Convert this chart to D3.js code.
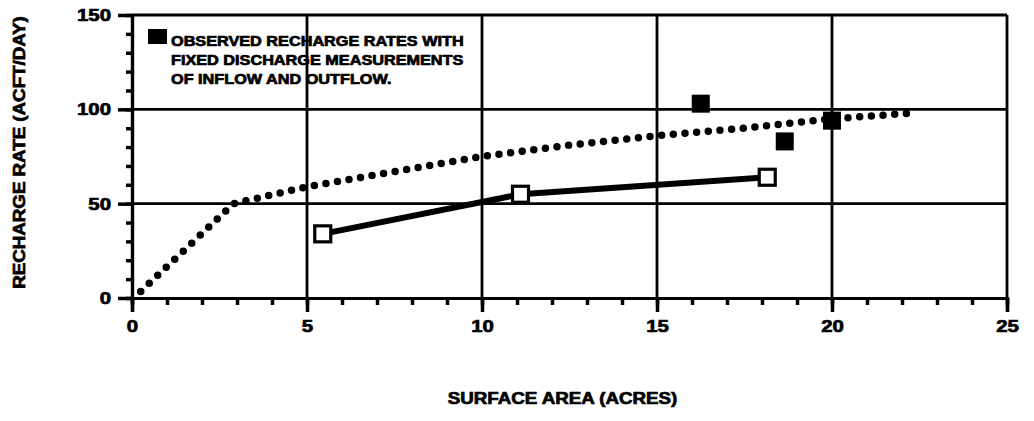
<!DOCTYPE html>
<html>
<head>
<meta charset="utf-8">
<script src="https://cdn.jsdelivr.net/npm/d3@7"></script>
<style>
  body { margin: 0; background: #fff; }
  text { font-family: "Liberation Sans", Arial, sans-serif; font-weight: bold; fill: #000; stroke: #000; stroke-width: 0.7px; }
</style>
</head>
<body>
<div id="chart"></div>
<script>
// estimated recharge curve (dotted)
var curveArea = [0.25, 2.9, 5, 7.5, 10, 12.5, 15, 17.5, 20, 22.3];
var curveRate = [3.5, 50, 59, 67, 75, 81, 86, 90, 95, 98];

// computed rates (open squares, solid line)
var computedArea = [5.45, 11.1, 18.15];
var computedRate = [34, 55, 64];

// observed rates (filled squares)
var observedArea = [16.25, 18.65, 20];
var observedRate = [103, 83, 94];

var xTicks = [0, 5, 10, 15, 20, 25];
var yTicks = [0, 50, 100, 150];
var xLabel = "SURFACE AREA (ACRES)";
var yLabel = "RECHARGE RATE (ACFT/DAY)";
var legendLines = ["OBSERVED RECHARGE RATES WITH",
    "FIXED DISCHARGE MEASUREMENTS",
    "OF INFLOW AND OUTFLOW."];

var margin = {top: 15, right: 27, bottom: 123, left: 132},
    width = 1034 - margin.left - margin.right,
    height = 421 - margin.top - margin.bottom;

var svg = d3.select("#chart")
    .append("svg")
    .attr("width", 1034)
    .attr("height", 421)
    .append("g")
    .attr("transform", "translate(" + margin.left + "," + margin.top + ")");

var x = d3.scaleLinear().domain([0, 25]).range([0, width]);
var y = d3.scaleLinear().domain([0, 150]).range([height, 0]);

// widen the bold text a bit, the scanned font is broad
function stretch(sel, k) {
    sel.each(function () {
        var w = this.getComputedTextLength();
        d3.select(this).attr("textLength", w * k).attr("lengthAdjust", "spacingAndGlyphs");
    });
}

// grid
svg.append("g").selectAll("line.v")
    .data(xTicks.slice(1))
    .enter().append("line")
    .attr("x1", function (d) { return x(d); })
    .attr("x2", function (d) { return x(d); })
    .attr("y1", 0).attr("y2", height)
    .attr("stroke", "#000").attr("stroke-width", 2.8);
svg.append("g").selectAll("line.h")
    .data(yTicks.slice(1))
    .enter().append("line")
    .attr("x1", 0).attr("x2", width)
    .attr("y1", function (d) { return y(d); })
    .attr("y2", function (d) { return y(d); })
    .attr("stroke", "#000").attr("stroke-width", 2.8);

// x axis: minor ticks every acre, major every 5
var xAxis = svg.append("g")
    .attr("transform", "translate(0," + height + ")");
xAxis.call(d3.axisBottom(x).tickValues(d3.range(0, 26, 1)).tickSize(7).tickFormat(""));
xAxis.append("g").call(d3.axisBottom(x).tickValues(xTicks).tickSize(14).tickFormat(d3.format("d")));
xAxis.selectAll(".domain").attr("stroke", "#000").attr("stroke-width", 3.2);
xAxis.selectAll(".tick line").attr("stroke", "#000").attr("stroke-width", 3.5);
xAxis.selectAll(".tick text")
    .attr("y", 22)
    .attr("dy", "0.71em")
    .style("font-size", "17px")
    .attr("fill", "#000")
    .call(stretch, 1.2);

// y axis: minor every 10, major every 50
var yAxis = svg.append("g");
yAxis.call(d3.axisLeft(y).tickValues(d3.range(0, 151, 10)).tickSize(6).tickFormat(""));
yAxis.append("g").call(d3.axisLeft(y).tickValues(yTicks).tickSize(14).tickFormat(d3.format("d")));
yAxis.selectAll(".domain").attr("stroke", "#000").attr("stroke-width", 3.2);
yAxis.selectAll(".tick line").attr("stroke", "#000").attr("stroke-width", 3.5);
yAxis.selectAll(".tick text")
    .attr("x", -21)
    .style("font-size", "17px")
    .attr("fill", "#000")
    .call(stretch, 1.2);

// dotted curve
var curveData = curveArea.map(function (d, i) { return {a: d, r: curveRate[i]}; });
var line = d3.line()
    .x(function (d) { return x(d.a); })
    .y(function (d) { return y(d.r); });
svg.append("path")
    .datum(curveData)
    .attr("d", line)
    .attr("fill", "none")
    .attr("stroke", "#000")
    .attr("stroke-width", 7.5)
    .attr("stroke-linecap", "round")
    .attr("stroke-dasharray", "0 11.7");

// computed line with open squares
var computedData = computedArea.map(function (d, i) { return {a: d, r: computedRate[i]}; });
svg.append("path")
    .datum(computedData)
    .attr("d", line)
    .attr("fill", "none")
    .attr("stroke", "#000")
    .attr("stroke-width", 6);
svg.selectAll("rect.open")
    .data(computedData)
    .enter().append("rect")
    .attr("class", "open")
    .attr("x", function (d) { return x(d.a) - 8; })
    .attr("y", function (d) { return y(d.r) - 8; })
    .attr("width", 16).attr("height", 16)
    .attr("fill", "#fff")
    .attr("stroke", "#000")
    .attr("stroke-width", 3.2);

// observed filled squares
var observedData = observedArea.map(function (d, i) { return {a: d, r: observedRate[i]}; });
svg.selectAll("rect.filled")
    .data(observedData)
    .enter().append("rect")
    .attr("class", "filled")
    .attr("x", function (d) { return x(d.a) - 9; })
    .attr("y", function (d) { return y(d.r) - 9; })
    .attr("width", 18).attr("height", 18)
    .attr("fill", "#000");

// legend
var legend = svg.append("g").attr("transform", "translate(16,14)");
legend.append("rect")
    .attr("x", 0).attr("y", 0)
    .attr("width", 19).attr("height", 15)
    .attr("fill", "#000");
legend.selectAll("text")
    .data(legendLines)
    .enter().append("text")
    .attr("x", 23)
    .attr("y", function (d, i) { return 16.5 + i * 19; })
    .style("font-size", "14px")
    .text(function (d) { return d; })
    .call(stretch, 1.16);

// axis titles
svg.append("text")
    .attr("x", x(12.5) - 7)
    .attr("y", height + 106)
    .attr("text-anchor", "middle")
    .style("font-size", "16px")
    .text(xLabel)
    .call(stretch, 1.17);
svg.append("text")
    .attr("transform", "translate(" + (-107) + "," + (y(75) - 4) + ") rotate(-90)")
    .attr("text-anchor", "middle")
    .style("font-size", "16px")
    .text(yLabel)
    .call(stretch, 1.17);
</script>
</body>
</html>
